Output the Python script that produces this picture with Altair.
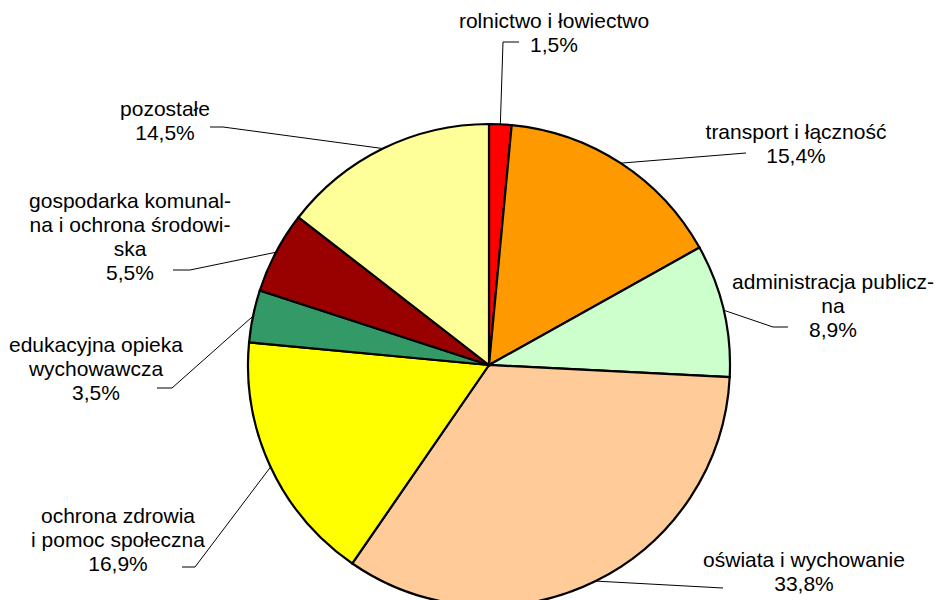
import math
import altair as alt
import pandas as pd

# ---- data ----
categories = [
    "rolnictwo i łowiectwo",
    "transport i łączność",
    "administracja publiczna",
    "oświata i wychowanie",
    "ochrona zdrowia i pomoc społeczna",
    "edukacyjna opieka wychowawcza",
    "gospodarka komunalna i ochrona środowiska",
    "pozostałe",
]
values = [1.5, 15.4, 8.9, 33.8, 16.9, 3.5, 5.5, 14.5]
label_texts = [
    "rolnictwo i łowiectwo",
    "transport i łączność",
    "administracja publicz-\nna",
    "oświata i wychowanie",
    "ochrona zdrowia\ni pomoc społeczna",
    "edukacyjna opieka\nwychowawcza",
    "gospodarka komunal-\nna i ochrona środowi-\nska",
    "pozostałe",
]
colors = ["#FF0000", "#FF9900", "#CCFFCC", "#FFCC99", "#FFFF00", "#339966", "#990000", "#FFFF99"]

# ---- layout (pixels, plot coordinates) ----
W, H = 928, 592
CX, CY, R = 481, 357, 241
label_pos = [(546, 20), (788, 131), (825, 281), (796, 559), (110, 515), (88, 344), (122, 200), (157, 108)]
leader_pts = [
    [(495, 34), (511, 34)],
    [(738, 145)],
    [(765, 319), (780, 319)],
    [(715, 580)],
    [(187, 559), (174, 559)],
    [(164, 380), (149, 380)],
    [(182, 262), (165, 262)],
    [(215, 119), (202, 119)],
]

total = sum(values)
pie_df = pd.DataFrame({"name": categories, "value": values, "idx": list(range(len(values)))})

lab_rows = []
line_rows = []
cum = 0.0
for i, (name, v) in enumerate(zip(categories, values)):
    mid = (cum + v / 2) / total * 2 * math.pi
    cum += v
    ex = CX + R * math.sin(mid)
    ey = CY - R * math.cos(mid)
    pts = [(ex, ey)] + leader_pts[i]
    for j, (px, py) in enumerate(pts):
        line_rows.append({"name": name, "seq": j, "x": px, "y": py})
    pct = f"{v:.1f}".replace(".", ",") + "%"
    lab_rows.append({"name": name, "text": label_texts[i] + "\n" + pct,
                     "x": label_pos[i][0], "y": label_pos[i][1]})

lab_df = pd.DataFrame(lab_rows)
line_df = pd.DataFrame(line_rows)

xs = alt.Scale(domain=[0, W], range=[0, W])
ys = alt.Scale(domain=[0, H], range=[0, H])

pie = alt.Chart(pie_df).mark_arc(radius=R, stroke="#000000", strokeWidth=2.2).encode(
    theta=alt.Theta("value:Q", stack=True),
    order=alt.Order("idx:Q"),
    color=alt.Color("name:N", scale=alt.Scale(domain=categories, range=colors), legend=None),
    x=alt.value(CX),
    y=alt.value(CY),
)

lines = alt.Chart(line_df).mark_line(color="#000000", strokeWidth=1).encode(
    x=alt.X("x:Q", scale=xs, axis=None),
    y=alt.Y("y:Q", scale=ys, axis=None),
    detail="name:N",
    order="seq:Q",
)

texts = alt.Chart(lab_df).mark_text(
    font="Liberation Sans", fontSize=21, lineBreak="\n", lineHeight=24,
    align="center", baseline="alphabetic", color="#000000",
).encode(
    x=alt.X("x:Q", scale=xs, axis=None),
    y=alt.Y("y:Q", scale=ys, axis=None),
    text="text:N",
)

chart = alt.layer(pie, lines, texts).properties(
    width=W, height=H, padding=0, autosize=alt.AutoSizeParams(type="none"),
).configure_view(stroke=None)

chart.save("out.html", embed_options={"renderer": "svg", "actions": False})
